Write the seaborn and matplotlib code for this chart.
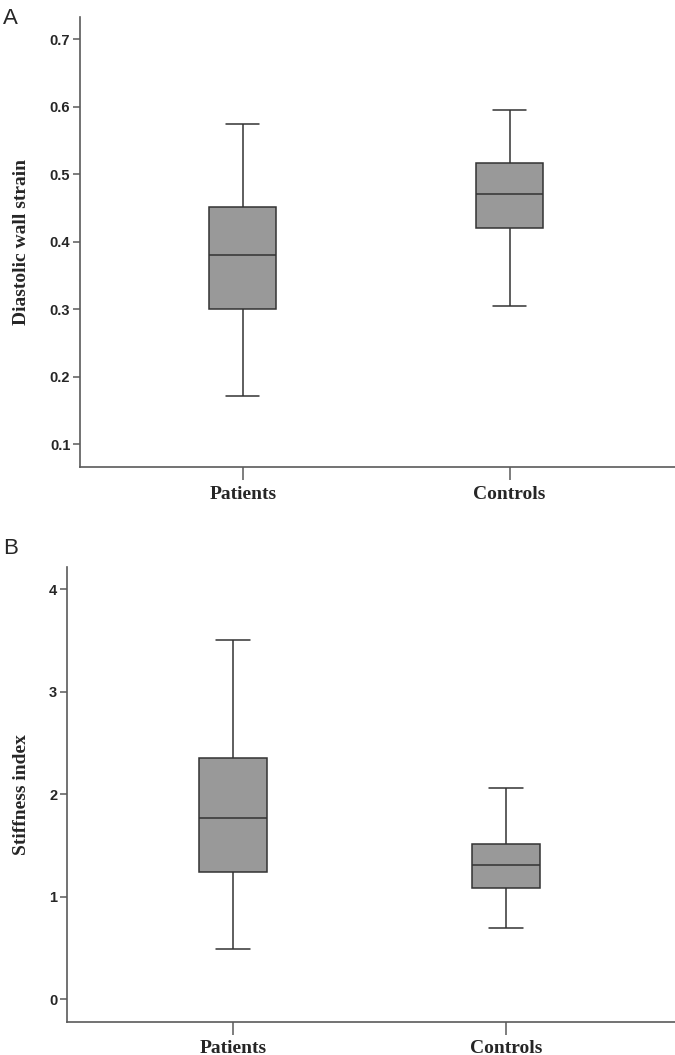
from matplotlib import pyplot as plt
import seaborn as sns
import pandas as pd

groups = ["Patients", "Controls"]
# min, q1, median, q3, max
strain_patients = [0.172, 0.300, 0.381, 0.452, 0.575]
strain_controls = [0.304, 0.420, 0.470, 0.516, 0.595]
stiff_patients = [0.494, 1.239, 1.766, 2.354, 3.510]
stiff_controls = [0.693, 1.086, 1.313, 1.518, 2.064]

strain = pd.DataFrame({
    "group": [groups[0]] * len(strain_patients) + [groups[1]] * len(strain_controls),
    "value": strain_patients + strain_controls,
})
stiff = pd.DataFrame({
    "group": [groups[0]] * len(stiff_patients) + [groups[1]] * len(stiff_controls),
    "value": stiff_patients + stiff_controls,
})

sns.set_style("ticks")
plt.rcParams['font.family'] = ['Liberation Sans', 'DejaVu Sans']

spine_col = "#5a5a5a"
fig = plt.figure(figsize=(6.75, 10.55), dpi=100)
axA = fig.add_axes([0.1185, 0.5573, 0.8815, 0.4266])
axB = fig.add_axes([0.0993, 0.0316, 0.9007, 0.4310])

for ax, df, ylab, ylim, yticks in [
    (axA, strain, "Diastolic wall strain", (0.066, 0.733), [0.1, 0.2, 0.3, 0.4, 0.5, 0.6, 0.7]),
    (axB, stiff, "Stiffness index", (-0.22, 4.22), [0, 1, 2, 3, 4]),
]:
    sns.boxplot(data=df, x="group", y="value", order=groups, ax=ax,
                width=0.25, whis=(0, 100), color="#999999", saturation=1,
                linecolor="#333333", linewidth=1.1, showfliers=False)
    ax.set_xlim(-0.61, 1.62)
    ax.set_ylim(*ylim)
    ax.set_yticks(yticks)
    ax.set_xlabel("")
    ax.set_ylabel(ylab, family="Liberation Serif", fontweight="bold",
                  fontsize=14, labelpad=14)
    sns.despine(ax=ax)
    for s in ["left", "bottom"]:
        ax.spines[s].set_color(spine_col)
        ax.spines[s].set_linewidth(1.2)
    ax.tick_params(axis="y", length=5, width=1.1, color=spine_col, pad=2,
                   labelsize=10.5)
    ax.tick_params(axis="x", length=9.5, width=1.1, color=spine_col, pad=4)
    for t in ax.get_yticklabels():
        t.set_fontweight("bold")
    for t in ax.get_xticklabels():
        t.set_family("Liberation Serif")
        t.set_fontweight("bold")
        t.set_fontsize(14)

fig.text(0.004, 0.9925, "A", fontsize=16, va="top", ha="left")
fig.text(0.004, 0.4905, "B", fontsize=16, va="top", ha="left")

plt.savefig("out.png", dpi=100)
